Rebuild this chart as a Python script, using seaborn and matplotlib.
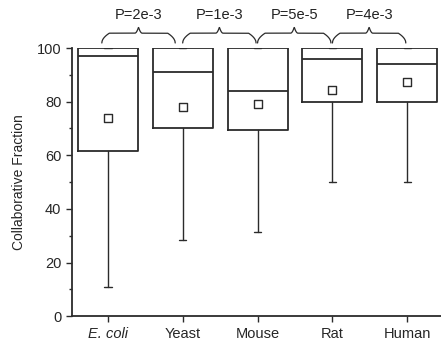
import numpy as np
import pandas as pd
import matplotlib
matplotlib.use("Agg")
import matplotlib.pyplot as plt
import seaborn as sns
from matplotlib.ticker import MultipleLocator

sns.set_style("ticks")
plt.rcParams['font.family'] = ['Liberation Sans', 'DejaVu Sans']

# data
species = ['E. coli', 'Yeast', 'Mouse', 'Rat', 'Human']
whisker_low = [11, 28.5, 31.5, 50, 50]
q1 = [61.5, 70, 69.5, 80, 80]
median = [97, 91, 84, 96, 94]
q3 = [100, 100, 100, 100, 100]
whisker_high = [100, 100, 100, 100, 100]
means = [74, 78, 79, 84.5, 87.5]
p_labels = ['P=2e-3', 'P=1e-3', 'P=5e-5', 'P=4e-3']

dark = '#2b2b2b'

fig = plt.figure(figsize=(4.41, 3.41), dpi=100)
ax = fig.add_axes([0.163, 0.073, 0.837, 0.786])

stats = []
for i, name in enumerate(species):
    stats.append({'label': name, 'whislo': whisker_low[i], 'q1': q1[i], 'med': median[i],
                  'q3': q3[i], 'whishi': whisker_high[i], 'mean': means[i]})

pos = np.arange(len(species))
ax.bxp(stats, positions=pos, widths=0.8, showmeans=False, showfliers=False,
       capwidths=0.1,
       boxprops=dict(color=dark, linewidth=1.3),
       medianprops=dict(color=dark, linewidth=1.3),
       whiskerprops=dict(color=dark, linewidth=1.0),
       capprops=dict(color=dark, linewidth=1.0))

df = pd.DataFrame({'x': pos, 'mean': means})
sns.scatterplot(data=df, x='x', y='mean', marker='s', s=36, facecolor='white',
                edgecolor=dark, linewidth=1.0, ax=ax, zorder=3)

# curly brackets with p-values between neighbours
def brace(ax, x0, x1, y, h):
    t = np.linspace(0, 1, 300)
    xs = x0 + (x1 - x0) * t
    half = np.where(t < 0.5, t * 2, (1 - t) * 2)
    r = 0.1 / (x1 - x0)
    ys = y + h * (0.62 * np.clip(np.minimum(t, 1 - t) / r, 0, 1) ** 0.5
                  + 0.38 * np.clip((half - 1 + r) / r, 0, 1) ** 2)
    ax.plot(xs, ys, color=dark, lw=0.9, clip_on=False)

for i, lab in enumerate(p_labels):
    x0 = i - 0.08 if i == 0 else i
    x1 = i + 1 - 0.1 if i == 0 else i + 1 - 0.02
    brace(ax, x0, x1, 101.9, 5.9)
    ax.text((x0 + x1) / 2, 112.3, lab, ha='center', va='center', fontsize=10.5,
            color='#222222', clip_on=False)

ax.set_xlim(-0.48, 4.45)
ax.set_ylim(0, 100)
ax.set_xticks(pos)
ax.set_xticklabels(species, fontsize=10.5)
ax.get_xticklabels()[0].set_style('italic')
ax.yaxis.set_major_locator(MultipleLocator(20))
ax.yaxis.set_minor_locator(MultipleLocator(10))
ax.tick_params(axis='y', labelsize=10.5, length=4, width=1.0, color=dark)
ax.tick_params(axis='y', which='minor', length=2.5, width=1.0, color=dark)
ax.tick_params(axis='x', length=4, width=1.0, color=dark)
ax.set_ylabel('Collaborative Fraction', fontsize=10, labelpad=8)
ax.set_xlabel('')
sns.despine(ax=ax)
for s in ['left', 'bottom']:
    ax.spines[s].set_linewidth(1.3)
    ax.spines[s].set_color(dark)

fig.savefig('out.png', dpi=100)
